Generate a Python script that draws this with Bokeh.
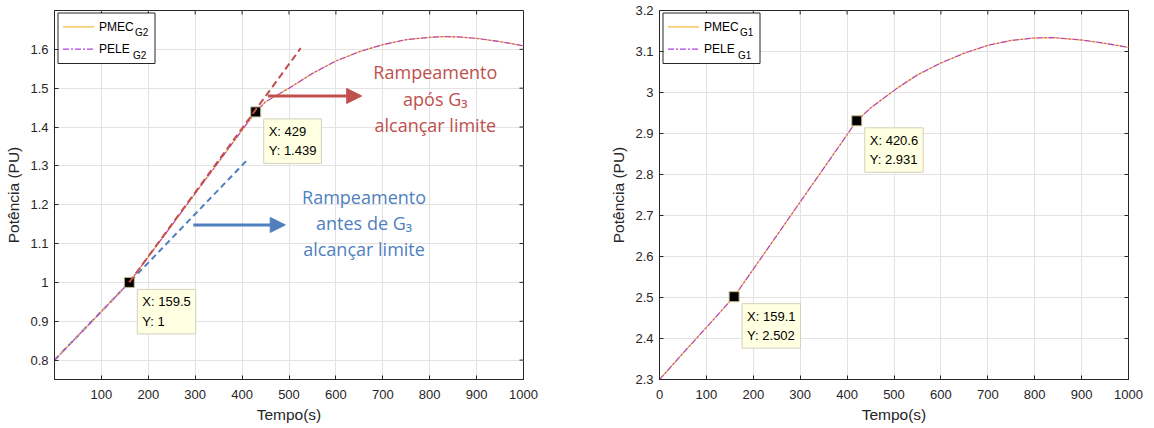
import math
from bokeh.plotting import figure
from bokeh.models import (Range1d, FixedTicker, NumeralTickFormatter,
                          Label, Arrow, NormalHead)
from bokeh.layouts import row
from bokeh.embed import file_html
from bokeh.resources import INLINE

# ---------------- data ----------------
t_g2 = [0, 40, 80, 120, 159.5, 200, 250, 300, 350, 400, 429, 450, 480, 500, 550,
        600, 650, 700, 750, 800, 830, 860, 900, 950, 1000]
pmec_g2 = [0.800, 0.850, 0.900, 0.950, 1.000, 1.066, 1.147, 1.229, 1.310, 1.392, 1.439,
           1.465, 1.486, 1.500, 1.538, 1.570, 1.594, 1.612, 1.625, 1.631, 1.633, 1.632,
           1.628, 1.620, 1.609]
pele_g2 = list(pmec_g2)

t_g1 = [0, 50, 100, 159.1, 200, 250, 300, 350, 400, 420.6, 450, 480, 506, 550, 600,
        650, 700, 750, 800, 840, 900, 950, 1000]
pmec_g1 = [2.300, 2.364, 2.427, 2.502, 2.569, 2.651, 2.733, 2.815, 2.897, 2.931, 2.962,
           2.988, 3.010, 3.043, 3.072, 3.096, 3.115, 3.127, 3.133, 3.134, 3.128, 3.120,
           3.110]
pele_g1 = list(pmec_g1)

tips_g2_x = [159.5, 429]
tips_g2_y = [1.0, 1.439]
tips_g1_x = [159.1, 420.6]
tips_g1_y = [2.502, 2.931]

# tangent ramps (left chart)
ramp_before_t = [0, 410]
ramp_before_y = [0.8, 1.314]
ramp_after_t = [159.5, 525]
ramp_after_y = [1.0, 1.603]

# arrows (left chart)
arrow_after = (455, 1.48, 655, 1.48)
arrow_before = (296, 1.148, 492, 1.148)

text_after = ["Rampeamento", "após G₃", "alcançar limite"]
text_before = ["Rampeamento", "antes de G₃", "alcançar limite"]

xticks_left = [100, 200, 300, 400, 500, 600, 700, 800, 900, 1000]
xticks_right = [0, 100, 200, 300, 400, 500, 600, 700, 800, 900, 1000]
yticks_left = [0.8, 0.9, 1.0, 1.1, 1.2, 1.3, 1.4, 1.5, 1.6]
yticks_right = [2.3, 2.4, 2.5, 2.6, 2.7, 2.8, 2.9, 3.0, 3.1, 3.2]

# ---------------- style ----------------
C_AX = "#262626"
C_GRID = "#e3e3e3"
C_PMEC = "#f7b943"
C_PELE = "#b23fe0"
C_RED = "#c0504d"
C_BLUE = "#4f7fbf"
FONT = "Liberation Sans"
FW, FH = 469, 369
LB1, RB, TB, BB = 54, 20, 10, 44


def make_fig(xr, yr, xticks, yticks, lb):
    p = figure(frame_width=FW, frame_height=FH, x_range=Range1d(*xr), y_range=Range1d(*yr),
               output_backend="svg", toolbar_location=None,
               min_border_left=lb, min_border_right=RB, min_border_top=TB,
               min_border_bottom=BB, background_fill_color="white",
               border_fill_color="white", outline_line_color=C_AX)
    p.xaxis.ticker = FixedTicker(ticks=xticks)
    p.yaxis.ticker = FixedTicker(ticks=yticks)
    p.yaxis.formatter = NumeralTickFormatter(format="0.[0]")
    for ax in (p.xaxis[0], p.yaxis[0]):
        ax.major_tick_in = 4
        ax.major_tick_out = 0
        ax.minor_tick_line_color = None
        ax.axis_line_color = C_AX
        ax.major_tick_line_color = C_AX
        ax.major_label_text_color = C_AX
        ax.major_label_text_font = FONT
        ax.major_label_text_font_size = "13px"
        ax.axis_label_text_font = FONT
        ax.axis_label_text_font_size = "15.5px"
        ax.axis_label_text_font_style = "normal"
        ax.axis_label_text_color = C_AX
    p.xaxis.major_label_standoff = 10
    p.yaxis.major_label_standoff = 6
    p.xaxis.axis_label_standoff = 4
    p.yaxis.axis_label_standoff = 5
    p.xaxis.axis_label = "Tempo(s)"
    p.yaxis.axis_label = "Potência (PU)"
    p.xgrid.grid_line_color = C_GRID
    p.ygrid.grid_line_color = C_GRID
    # mirrored inward ticks on top / right (half of each dash is clipped by the frame)
    p.scatter(xticks, [yr[1]] * len(xticks), marker="dash", size=8, angle=math.pi / 2,
              line_color=C_AX, line_width=1)
    p.scatter([xr[1]] * len(yticks), yticks, marker="dash", size=8,
              line_color=C_AX, line_width=1)
    return p


def px2x(p, px):
    r = p.x_range
    return r.start + px * (r.end - r.start) / FW


def py2y(p, py):
    r = p.y_range
    return r.end - py * (r.end - r.start) / FH


def add_legend(p, sub):
    p.quad(left=px2x(p, 3.5), right=px2x(p, 100.5), top=py2y(p, 2.5), bottom=py2y(p, 53),
           fill_color="white", line_color=C_AX, line_width=1)
    rows = [("PMEC", C_PMEC, "solid", 16.3, 80.5), ("PELE", C_PELE, "6 2 2 2", 38.7, 78.5)]
    for name, col, dash, py, subx in rows:
        p.line([px2x(p, 8.5), px2x(p, 39.5)], [py2y(p, py), py2y(p, py)],
               line_color=col, line_width=1.3, line_dash=dash)
        p.add_layout(Label(x=px2x(p, 44.5), y=py2y(p, py), text=name, text_font=FONT,
                           text_font_size="12px", text_color="black",
                           text_baseline="middle", text_align="left"))
        p.add_layout(Label(x=px2x(p, subx), y=py2y(p, py + 6), text=sub, text_font=FONT,
                           text_font_size="10px", text_color="black",
                           text_baseline="middle", text_align="left"))


def add_curves(p, t, pmec, pele, tx, ty):
    p.line(t, pmec, line_color=C_PMEC, line_width=1.3)
    p.line(t, pele, line_color=C_PELE, line_width=1.1, line_dash="6 2 2 2")
    p.scatter(tx, ty, marker="square", size=10, fill_color="black",
              line_color="#c8bb8c", line_width=1)
    for x, y in zip(tx, ty):
        p.add_layout(Label(x=x, y=y, x_offset=8, y_offset=-7,
                           text=f"X: {x:g}\nY: {y:g}", text_font=FONT,
                           text_font_size="13px", text_color="black",
                           text_align="left", text_baseline="top", text_line_height=1.3,
                           background_fill_color="#ffffe1",
                           border_line_color="#d3d0bd", border_line_width=1, padding=5))


# ---------------- left chart ----------------
p1 = make_fig((0, 1000), (0.75, 1.7), xticks_left, yticks_left, LB1)
p1.line(ramp_before_t, ramp_before_y, line_color=C_BLUE, line_width=2, line_dash="6 4")
add_curves(p1, t_g2, pmec_g2, pele_g2, tips_g2_x, tips_g2_y)
p1.line(ramp_after_t, ramp_after_y, line_color=C_RED, line_width=2, line_dash="7 4")
for (x0, y0, x1, y1), col in ((arrow_after, C_RED), (arrow_before, C_BLUE)):
    p1.add_layout(Arrow(x_start=x0, y_start=y0, x_end=x1, y_end=y1, line_color=col,
                        line_width=3,
                        end=NormalHead(size=15, fill_color=col, line_color=col)))
for lines, col, xc, ys in ((text_after, C_RED, 812, [1.542, 1.472, 1.405]),
                           (text_before, C_BLUE, 660, [1.221, 1.152, 1.085])):
    for s, y in zip(lines, ys):
        p1.add_layout(Label(x=xc, y=y, text=s, text_font="Open Sans",
                            text_font_size="18px", text_color=col,
                            text_align="center", text_baseline="middle"))
add_legend(p1, "G2")

# ---------------- right chart ----------------
w1 = LB1 + FW + RB
p2 = make_fig((0, 1000), (2.3, 3.2), xticks_right, yticks_right, 659 - w1)
add_curves(p2, t_g1, pmec_g1, pele_g1, tips_g1_x, tips_g1_y)
add_legend(p2, "G1")

layout = row(p1, p2, spacing=0)
open("out.html", "w").write(file_html(layout, INLINE))
